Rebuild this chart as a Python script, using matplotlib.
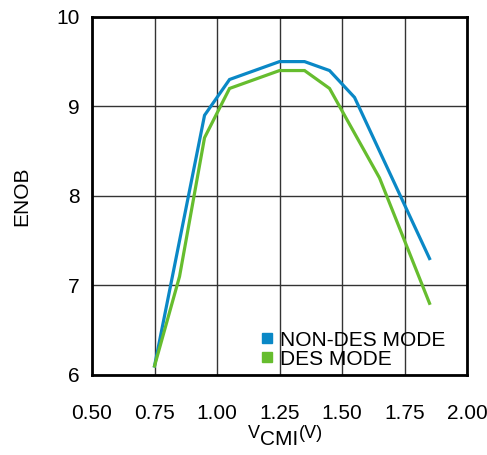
import matplotlib
matplotlib.use('Agg')
import matplotlib.pyplot as plt
from matplotlib.lines import Line2D

# ENOB vs input common-mode voltage
vcmi_non_des = [0.75, 0.95, 1.05, 1.25, 1.35, 1.45, 1.55, 1.65, 1.85]
enob_non_des = [6.1, 8.9, 9.3, 9.5, 9.5, 9.4, 9.1, 8.5, 7.3]

vcmi_des = [0.75, 0.85, 0.95, 1.05, 1.25, 1.35, 1.45, 1.65, 1.85]
enob_des = [6.1, 7.1, 8.65, 9.2, 9.4, 9.4, 9.2, 8.2, 6.8]

x_ticks = [0.50, 0.75, 1.00, 1.25, 1.50, 1.75, 2.00]
y_ticks = [6, 7, 8, 9, 10]

BLUE = '#0A88C6'
GREEN = '#66BD2E'

plt.rcParams['font.family'] = ['Liberation Sans', 'DejaVu Sans']

fig = plt.figure(figsize=(4.87, 4.55), dpi=100)
ax = fig.add_axes([0.189, 0.176, 0.770, 0.787])

ax.plot(vcmi_non_des, enob_non_des, color=BLUE, lw=2.3, solid_joinstyle='miter', zorder=3)
ax.plot(vcmi_des, enob_des, color=GREEN, lw=2.3, solid_joinstyle='miter', zorder=3)

ax.set_xlim(0.5, 2.0)
ax.set_ylim(6, 10)
ax.set_xticks(x_ticks)
ax.set_xticklabels([f'{v:.2f}' for v in x_ticks])
ax.set_yticks(y_ticks)
ax.tick_params(axis='both', length=0, labelsize=15)
ax.tick_params(axis='x', pad=21)
ax.tick_params(axis='y', pad=9)
ax.grid(True, color='#333333', lw=1.0)
ax.set_axisbelow(True)
for sp in ax.spines.values():
    sp.set_linewidth(2.0)

ax.set_ylabel('ENOB', fontsize=15, labelpad=18)

# x label: "V" and "(V)" sit higher and a bit smaller than "CMI"
xlab = ax.set_xlabel('CMI', fontsize=15, labelpad=5)
ax.annotate('V', xy=(0, 1), xycoords=xlab, xytext=(-0.5, 3.5),
            textcoords='offset points', ha='right', va='top', fontsize=13)
ax.annotate('(V)', xy=(1, 1), xycoords=xlab, xytext=(0.5, 3.5),
            textcoords='offset points', ha='left', va='top', fontsize=13)

handles = [Line2D([], [], ls='none', marker='s', ms=7, color=BLUE),
           Line2D([], [], ls='none', marker='s', ms=7, color=GREEN)]
ax.legend(handles, ['NON-DES MODE', 'DES MODE'], loc='lower left',
          bbox_to_anchor=(0.445, 0.012), frameon=False, fontsize=15,
          handlelength=0.6, handletextpad=0.3, labelspacing=0.0,
          borderpad=0.1, borderaxespad=0)

fig.savefig('out.png', dpi=100)
